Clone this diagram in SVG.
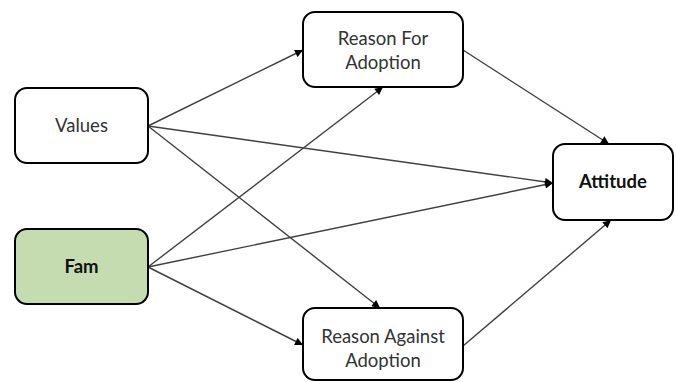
<svg xmlns="http://www.w3.org/2000/svg" width="676" height="382" viewBox="0 0 676 382">
<style>
.box{fill:#ffffff;stroke:#000000;stroke-width:2}
.fam{fill:#c5dcb0}
.t{font-family:Lato,"Open Sans","Liberation Sans",sans-serif;font-size:18.5px;fill:#333333;text-anchor:middle}
.b{font-weight:bold;fill:#111111}
.e{stroke:#404040;stroke-width:1.4;fill:none;marker-end:url(#ah)}
</style>
<defs>
<marker id="ah" viewBox="0 0 10 10" refX="10" refY="5" markerWidth="9" markerHeight="8" markerUnits="userSpaceOnUse" orient="auto">
<path d="M0,0 L10,5 L0,10 z" fill="#000000"/>
</marker>
</defs>
<rect width="676" height="382" fill="#ffffff"/>
<g id="edges">
<line class="e" x1="148" y1="126" x2="303" y2="50"/>
<line class="e" x1="148" y1="126" x2="553" y2="183"/>
<line class="e" x1="148" y1="126" x2="380" y2="308"/>
<line class="e" x1="148" y1="267" x2="383" y2="87"/>
<line class="e" x1="148" y1="267" x2="553" y2="183"/>
<line class="e" x1="148" y1="267" x2="303" y2="345"/>
<line class="e" x1="463" y1="50" x2="609" y2="144"/>
<line class="e" x1="463" y1="346" x2="611" y2="220"/>
</g>
<g id="values">
<rect class="box" x="15" y="88" width="133" height="75" rx="12"/>
<text class="t" x="81.5" y="132">Values</text>
</g>
<g id="fam">
<rect class="box fam" x="15" y="229" width="133" height="75" rx="12"/>
<text class="t b" x="81.5" y="273">Fam</text>
</g>
<g id="reasonFor">
<rect class="box" x="303" y="12" width="160" height="75" rx="12"/>
<text class="t" x="383" y="45">Reason For</text>
<text class="t" x="383" y="69">Adoption</text>
</g>
<g id="reasonAgainst">
<rect class="box" x="303" y="308" width="160" height="72" rx="12"/>
<text class="t" x="383" y="343">Reason Against</text>
<text class="t" x="383" y="367">Adoption</text>
</g>
<g id="attitude">
<rect class="box" x="553" y="144" width="120" height="76" rx="12"/>
<text class="t b" x="613" y="188">Attitude</text>
</g>
</svg>
